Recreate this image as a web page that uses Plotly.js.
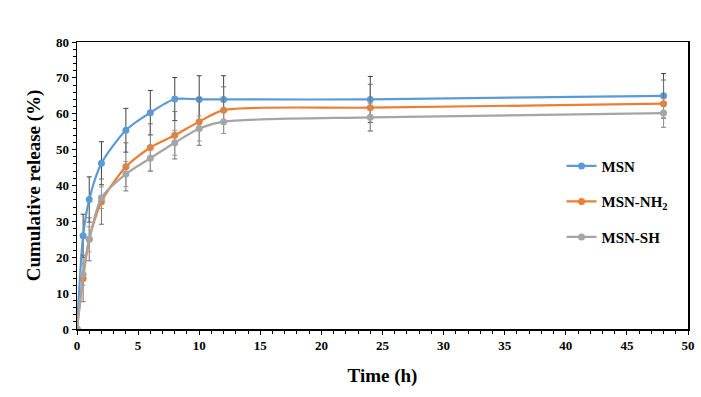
<!DOCTYPE html>
<html>
<head>
<meta charset="utf-8">
<script src="https://cdn.plot.ly/plotly-3.0.1.min.js"></script>
<style>html,body{margin:0;padding:0;background:#fff;}#chart{width:701px;height:397px;}</style>
</head>
<body>
<div id="chart"></div>
<script>
var time = [0, 0.5, 1, 2, 4, 6, 8, 10, 12, 24, 48];
var msn = [0, 26, 36.1, 46.2, 55.4, 60.3, 64.1, 64.0, 64.0, 64.0, 65.0];
var msnErr = [0, 6, 6.3, 6, 6.1, 6.2, 6, 6.6, 6.6, 6.4, 6.2];
var msnNH2 = [0, 14.1, 25.0, 35.5, 45.2, 50.6, 54.0, 57.8, 61.0, 61.7, 62.8];
var nh2Err = [0, 6.5, 6, 6.3, 6.7, 6.6, 6.6, 6.6, 6.5, 6.5, 6.6];
var msnSH = [0, 15.2, 25.0, 36.6, 43.2, 47.6, 51.9, 55.9, 57.8, 59.0, 60.2];
var shErr = [0, 3, 3.5, 3, 3.5, 3.5, 3.5, 3.5, 3.3, 3.8, 4];
var names = ['MSN', 'MSN-NH<sub>2</sub>', 'MSN-SH'];
var colors = ['#5B9BD5', '#ED7D31', '#A5A5A5'];
var errColors = ['#404040', '#707070', '#9a9a9a'];

var ys = [msn, msnNH2, msnSH];
var errs = [msnErr, nh2Err, shErr];
var traces = ys.map(function (y, i) {
  return {
    x: time, y: y, name: names[i], type: 'scatter', mode: 'lines+markers',
    legendgroup: 'g' + i,
    line: {color: colors[i], width: 2.2, shape: 'spline', smoothing: 0.7},
    marker: {color: colors[i], size: 7},
    error_y: {type: 'data', array: errs[i], visible: true, color: errColors[i], thickness: 1, width: 2.5}
  };
});

var font = {family: '"Liberation Serif", "Times New Roman", serif', color: '#000'};
var layout = {
  width: 701, height: 397,
  margin: {l: 77, r: 13, t: 42, b: 68},
  paper_bgcolor: '#fff', plot_bgcolor: '#fff',
  showlegend: true,
  font: font,
  legend: {
    x: 0.793, y: 0.625, xanchor: 'left', yanchor: 'top',
    font: {family: font.family, size: 15, color: '#000', weight: 'bold'},
    traceorder: 'grouped', tracegroupgap: 13, itemwidth: 30,
    bgcolor: 'rgba(0,0,0,0)'
  },
  xaxis: {
    range: [0, 50], dtick: 5, tick0: 0,
    showgrid: false, zeroline: false,
    showline: true, linecolor: '#000', linewidth: 1.5, mirror: true,
    ticks: 'outside', ticklen: 4, tickcolor: '#000', tickwidth: 1,
    minor: {dtick: 1, ticks: 'outside', ticklen: 3, tickcolor: '#000', tickwidth: 1},
    tickfont: {family: font.family, size: 13, color: '#000', weight: 'bold'},
    title: {text: 'Time (h)', font: {family: font.family, size: 19, color: '#000', weight: 'bold'}, standoff: 16}
  },
  yaxis: {
    range: [0, 80], dtick: 10, tick0: 0,
    showgrid: false, zeroline: false,
    showline: true, linecolor: '#000', linewidth: 1.5, mirror: true,
    ticks: 'outside', ticklen: 4, tickcolor: '#000', tickwidth: 1,
    minor: {dtick: 2, ticks: 'outside', ticklen: 3, tickcolor: '#000', tickwidth: 1},
    tickfont: {family: font.family, size: 13, color: '#000', weight: 'bold'},
    title: {text: 'Cumulative release (%)', font: {family: font.family, size: 19, color: '#000', weight: 'bold'}, standoff: 10}
  }
};
Plotly.newPlot('chart', traces, layout, {displayModeBar: false, staticPlot: true});
</script>
</body>
</html>
